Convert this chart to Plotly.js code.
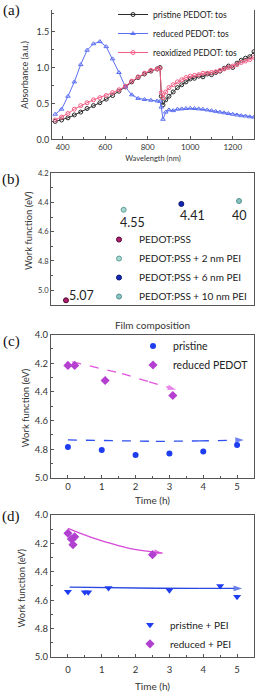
<!DOCTYPE html>
<html><head><meta charset="utf-8">
<script src="https://cdn.plot.ly/plotly-3.0.1.min.js"></script>
<style>html,body{margin:0;padding:0;background:#fff;}#chart{width:258px;height:692px;}</style>
</head><body><div id="chart"></div>
<script>
// ---------- Panel (a): absorbance spectra ----------
const wavelength = [365,395,425,455,485,515,545,575,605,635,665,695,725,755,785,815,845,858,864,872,885,900,920,940,960,980,1000,1020,1040,1060,1080,1100,1120,1140,1160,1180,1200,1220,1240,1260,1280,1300];
const absPristine = [0.25,0.27,0.30,0.34,0.38,0.43,0.47,0.51,0.56,0.61,0.67,0.73,0.80,0.86,0.91,0.95,0.98,1.00,0.60,0.48,0.55,0.60,0.66,0.72,0.76,0.80,0.84,0.85,0.88,0.87,0.91,0.90,0.93,0.95,0.99,1.02,1.00,1.06,1.10,1.13,1.15,1.22];
const absReduced = [0.35,0.42,0.60,0.80,1.04,1.24,1.33,1.36,1.29,1.12,0.93,0.73,0.62,0.57,0.555,0.545,0.535,0.53,0.45,0.28,0.38,0.41,0.40,0.42,0.425,0.43,0.435,0.43,0.425,0.42,0.41,0.40,0.39,0.38,0.37,0.36,0.35,0.34,0.33,0.325,0.315,0.31];
const absReoxidized = [0.27,0.31,0.36,0.42,0.47,0.51,0.55,0.58,0.61,0.65,0.69,0.74,0.81,0.87,0.92,0.96,0.98,0.99,0.65,0.58,0.66,0.72,0.76,0.80,0.83,0.86,0.88,0.89,0.90,0.92,0.92,0.93,0.94,0.96,0.98,1.00,1.02,1.04,1.07,1.09,1.11,1.14];
const seriesNamesA = ['pristine PEDOT: tos','reduced PEDOT: tos','reoxidized PEDOT: tos'];

// ---------- Panel (b): work function vs film composition ----------
const filmNames = ['PEDOT:PSS','PEDOT:PSS + 2 nm PEI','PEDOT:PSS + 6 nm PEI','PEDOT:PSS + 10 nm PEI'];
const filmIndex = [1,2,3,4];
const filmWF = [5.07,4.45,4.41,4.39];
const filmWFText = ['5.07','4.55','4.41','40'];

// ---------- Panel (c): work function vs time ----------
const seriesNamesC = ['pristine','reduced PEDOT'];
const timePristineC = [0,1,2,3,4,5];
const wfPristineC = [4.785,4.805,4.84,4.83,4.815,4.77];
const timeReducedC = [0,0.2,1.1,3.1];
const wfReducedC = [4.215,4.215,4.32,4.425];
const trendPristineC_t = [0,1.3,2.6,3.9,5.2];
const trendPristineC_wf = [4.735,4.742,4.745,4.742,4.735];
const trendReducedC_t = [0.13,0.8,1.6,2.4,3.2];
const trendReducedC_wf = [4.19,4.225,4.272,4.33,4.385];

// ---------- Panel (d): work function vs time with PEI ----------
const seriesNamesD = ['pristine + PEI','reduced + PEI'];
const timePristineD = [0,0.5,0.6,1.2,3,4.5,5];
const wfPristineD = [4.54,4.545,4.545,4.515,4.53,4.50,4.575];
const timeReducedD = [0,0.1,0.2,0.15,2.5];
const wfReducedD = [4.13,4.17,4.155,4.21,4.28];
const trendPristineD_t = [0.05,1.3,2.6,3.9,5.15];
const trendPristineD_wf = [4.508,4.513,4.516,4.517,4.517];
const trendReducedD_t = [0,0.65,1.15,1.75,2.35,2.8];
const trendReducedD_wf = [4.095,4.155,4.193,4.232,4.256,4.27];

// ---------- axis titles ----------
const titleAbs = 'Absorbance (a.u.)';
const titleWF = 'Work function (eV)';

// ---------- styles ----------
const W = 258, H = 692;
const FONT = 'Lato, "Open Sans", sans-serif';
const AX = '#555';
function xd(l, r){ return [l/W, r/W]; }
function yd(t, b){ return [(H-b)/H, (H-t)/H]; }
function arrowMarker(n, color, size){
  const sizes = new Array(n).fill(0); sizes[n-1] = size;
  const sym = new Array(n).fill('circle'); sym[n-1] = 'arrow';
  return {size: sizes, symbol: sym, color: color, angleref: 'previous', line:{width:0}};
}
function baseAxis(extra){
  return Object.assign({
    showline:true, linecolor:AX, linewidth:1, ticks:'inside', ticklen:3, tickcolor:AX,
    showgrid:false, zeroline:false, tickfont:{family:FONT, size:9, color:'#333'}
  }, extra);
}

const colA = ['#2b2b2b','#5b6ff2','#f25c84'];
const symA = ['circle-open','triangle-up-open','circle-open'];
const valsA = [absPristine, absReduced, absReoxidized];
const traces = [];
valsA.forEach((v,i)=>{
  traces.push({x:wavelength, y:v, type:'scatter', mode:'lines+markers', name:seriesNamesA[i],
    line:{color:colA[i], width:1}, marker:{symbol:symA[i], size:4, color:colA[i], line:{width:1, color:colA[i]}},
    xaxis:'x', yaxis:'y', legend:'legend'});
});

const colB = ['#b01c6e','#a5d8d0','#1428b8','#8ac4c4'];
const edgeB = ['#4a0a30','#5f9f98','#0a1870','#4f8f8f'];
filmNames.forEach((n,i)=>{
  traces.push({x:[filmIndex[i]], y:[filmWF[i]], type:'scatter', mode:'markers', name:n,
    marker:{symbol:'circle', size:5, color:colB[i], line:{width:1, color:edgeB[i]}},
    xaxis:'x2', yaxis:'y2', legend:'legend2'});
});

traces.push({x:trendReducedC_t, y:trendReducedC_wf, type:'scatter', mode:'lines+markers', showlegend:false,
  line:{color:'#e055e0', width:1.3, dash:'dash'}, marker:arrowMarker(trendReducedC_t.length,'#e055e0',9), xaxis:'x3', yaxis:'y3', hoverinfo:'skip'});
traces.push({x:trendPristineC_t, y:trendPristineC_wf, type:'scatter', mode:'lines+markers', showlegend:false,
  line:{color:'#2f4ff0', width:1.3, dash:'dash'}, marker:arrowMarker(trendPristineC_t.length,'#2f4ff0',9), xaxis:'x3', yaxis:'y3', hoverinfo:'skip'});
traces.push({x:timePristineC, y:wfPristineC, type:'scatter', mode:'markers', name:seriesNamesC[0],
  marker:{symbol:'circle', size:6, color:'#1f3df0'}, xaxis:'x3', yaxis:'y3', legend:'legend3'});
traces.push({x:timeReducedC, y:wfReducedC, type:'scatter', mode:'markers', name:seriesNamesC[1],
  marker:{symbol:'diamond', size:7, color:'#b43fd0'}, xaxis:'x3', yaxis:'y3', legend:'legend3'});

traces.push({x:trendReducedD_t, y:trendReducedD_wf, type:'scatter', mode:'lines+markers', showlegend:false, line:{shape:'spline', color:'#d848d8', width:1.3},
  marker:arrowMarker(trendReducedD_t.length,'#d848d8',9), xaxis:'x4', yaxis:'y4', hoverinfo:'skip'});
traces.push({x:trendPristineD_t, y:trendPristineD_wf, type:'scatter', mode:'lines+markers', showlegend:false, line:{color:'#2a48e0', width:1.3},
  marker:arrowMarker(trendPristineD_t.length,'#2a48e0',9), xaxis:'x4', yaxis:'y4', hoverinfo:'skip'});
traces.push({x:timePristineD, y:wfPristineD, type:'scatter', mode:'markers', name:seriesNamesD[0],
  marker:{symbol:'triangle-down', size:7, color:'#1f3df0'}, xaxis:'x4', yaxis:'y4', legend:'legend4'});
traces.push({x:timeReducedD, y:wfReducedD, type:'scatter', mode:'markers', name:seriesNamesD[1],
  marker:{symbol:'diamond', size:7, color:'#b040d0'}, xaxis:'x4', yaxis:'y4', legend:'legend4'});

const labelOffsets = [[16,5],[9,-13],[11,-12],[0,-14]];
const annotations = filmWFText.map((t,i)=>({x:filmIndex[i], y:filmWF[i], xref:'x2', yref:'y2', text:t, showarrow:false,
  xshift:labelOffsets[i][0], yshift:labelOffsets[i][1], font:{family:FONT, size:12.5, color:'#222'}}));
const panelLabels = [['(a)',11,8],['(b)',11,177],['(c)',11,340],['(d)',11,516]];
panelLabels.forEach(p=>annotations.push({text:p[0], xref:'paper', yref:'paper', x:p[1]/W, y:(H-p[2])/H,
  xanchor:'center', yanchor:'middle', showarrow:false, font:{family:'"Liberation Serif", "DejaVu Serif", serif', size:15, color:'#111'}}));
// y-axis titles (placed as rotated labels beside each axis)
const yTitles = [[titleAbs,25,72,9],[titleWF,28,229,9.5],[titleWF,25,407,9.5],[titleWF,21,588,9.5]];
yTitles.forEach(t=>annotations.push({text:t[0], xref:'paper', yref:'paper', x:t[1]/W, y:(H-t[2])/H,
  xanchor:'center', yanchor:'middle', textangle:-90, showarrow:false, font:{family:FONT, size:t[3], color:'#333'}}));

function legendAt(left, top, size){
  return {x:left/W, y:(H-top)/H, xanchor:'left', yanchor:'top', bgcolor:'rgba(0,0,0,0)', borderwidth:0,
    itemwidth:30, tracegroupgap:0, font:{family:FONT, size:size, color:'#222'}};
}

const layout = {
  width:W, height:H, margin:{l:0,r:0,t:0,b:0}, paper_bgcolor:'#fff', plot_bgcolor:'#fff', showlegend:true,
  font:{family:FONT, color:'#333'},
  xaxis: baseAxis({domain:xd(52,254), anchor:'y', range:[350,1300], dtick:200, tickfont:{family:FONT,size:8,color:'#333'},
    minor:{dtick:100, ticks:'inside', ticklen:2, tickcolor:AX},
    title:{text:'Wavelength (nm)', font:{family:FONT,size:7.5,color:'#333'}, standoff:4}}),
  yaxis: baseAxis({domain:yd(7,137), anchor:'x', range:[0,1.8], dtick:0.5, tickformat:'.1f', mirror:true,
    minor:{dtick:0.25, ticks:'inside', ticklen:2, tickcolor:AX}}),
  xaxis2: baseAxis({domain:xd(51,254), anchor:'y2', range:[0.74,4.26], showticklabels:false, ticks:'', mirror:true,
    title:{text:'Film composition', font:{family:FONT,size:10,color:'#333'}, standoff:17}}),
  yaxis2: baseAxis({domain:yd(171,303), anchor:'x2', range:[5.1,4.2], dtick:0.2, tickformat:'.1f', mirror:true,
    tickfont:{family:FONT,size:7.5,color:'#333'}, minor:{dtick:0.1, ticks:'inside', ticklen:2, tickcolor:AX}}),
  xaxis3: baseAxis({domain:xd(51,254), anchor:'y3', range:[-0.5,5.5], dtick:1, mirror:true, tickfont:{family:FONT,size:9.5,color:'#333'},
    minor:{dtick:0.5, ticks:'inside', ticklen:2, tickcolor:AX},
    title:{text:'Time (h)', font:{family:FONT,size:10,color:'#333'}, standoff:5}}),
  yaxis3: baseAxis({domain:yd(333,477), anchor:'x3', range:[5.0,4.0], dtick:0.2, tickformat:'.1f', mirror:true, tickfont:{family:FONT,size:9.5,color:'#333'},
    minor:{dtick:0.1, ticks:'inside', ticklen:2, tickcolor:AX}}),
  xaxis4: baseAxis({domain:xd(51,254), anchor:'y4', range:[-0.5,5.5], dtick:1, mirror:true, tickfont:{family:FONT,size:9.5,color:'#333'},
    minor:{dtick:0.5, ticks:'inside', ticklen:2, tickcolor:AX}, ticklabelstandoff:3,
    title:{text:'Time (h)', font:{family:FONT,size:10,color:'#333'}, standoff:11}}),
  yaxis4: baseAxis({domain:yd(514,657), anchor:'x4', range:[5.0,4.0], dtick:0.2, tickformat:'.1f', mirror:true, tickfont:{family:FONT,size:9.5,color:'#333'},
    minor:{dtick:0.1, ticks:'inside', ticklen:2, tickcolor:AX}}),
  legend: legendAt(113, -3, 8.5),
  legend2: legendAt(99, 223, 10),
  legend3: legendAt(133, 330, 10.5),
  legend4: legendAt(130, 610, 10),
  annotations: annotations
};

Plotly.newPlot('chart', traces, layout, {staticPlot:true, displayModeBar:false});
</script></body></html>
